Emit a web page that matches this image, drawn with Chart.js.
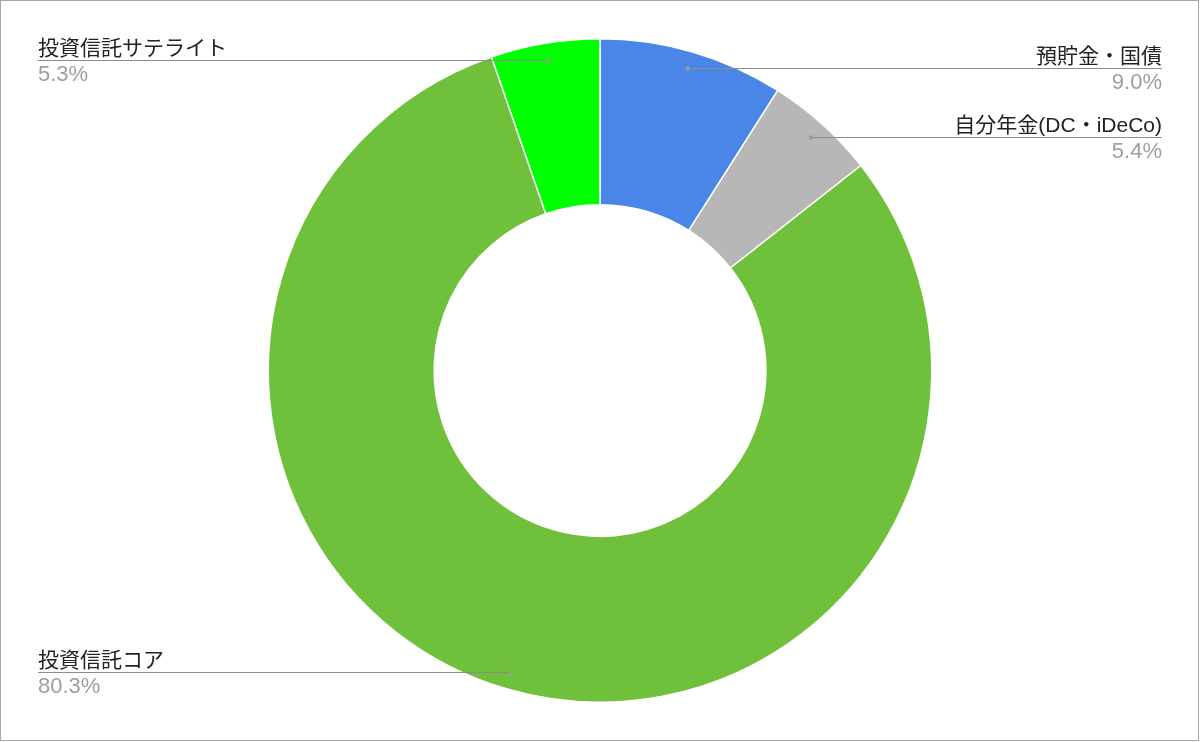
<!DOCTYPE html>
<html>
<head>
<meta charset="utf-8">
<script src="https://cdn.jsdelivr.net/npm/chart.js@4"></script>
<style>
html,body{margin:0;padding:0;background:#fff;}
#wrap{width:1200px;height:742px;position:relative;}
</style>
</head>
<body>
<div id="wrap"><canvas id="c" width="1200" height="742"></canvas></div>
<script>
const categories = ['預貯金・国債', '自分年金(DC・iDeCo)', '投資信託コア', '投資信託サテライト'];
const values = [9.0, 5.4, 80.3, 5.3];
const percentLabels = ['9.0%', '5.4%', '80.3%', '5.3%'];
const colors = ['#4a86e8', '#b7b7b7', '#6fc03b', '#00ff00'];

const labelPlugin = {
  id: 'leaderLabels',
  beforeDraw(chart) {
    const ctx = chart.ctx;
    ctx.save();
    ctx.fillStyle = '#ffffff';
    ctx.fillRect(0, 0, chart.width, chart.height);
    ctx.strokeStyle = '#a6a6a6';
    ctx.lineWidth = 1;
    ctx.strokeRect(0.5, 0.5, chart.width - 2, chart.height - 2);
    ctx.restore();
  },
  afterDraw(chart) {
    const ctx = chart.ctx;
    const meta = chart.getDatasetMeta(0);
    const leftX = 38, rightX = 1162;
    ctx.save();
    meta.data.forEach((arc, i) => {
      const p = arc.getProps(['x', 'y', 'startAngle', 'endAngle', 'outerRadius'], true);
      const mid = (p.startAngle + p.endAngle) / 2;
      const r = p.outerRadius * 0.948;
      const dx = p.x + Math.cos(mid) * r;
      const dy = p.y + Math.sin(mid) * r;
      const right = Math.cos(mid) >= 0;
      const ly = Math.round(dy) + 0.5;
      const tx = right ? rightX : leftX;
      ctx.strokeStyle = '#8c8c8c';
      ctx.lineWidth = 1;
      ctx.beginPath();
      ctx.moveTo(dx, ly);
      ctx.lineTo(tx, ly);
      ctx.stroke();
      ctx.fillStyle = '#9a9a9a';
      ctx.beginPath();
      ctx.arc(dx, ly, 2.2, 0, Math.PI * 2);
      ctx.fill();
      ctx.textAlign = right ? 'right' : 'left';
      ctx.font = '21px "Liberation Sans", "Noto Sans CJK JP", sans-serif';
      ctx.fillStyle = '#222222';
      ctx.textBaseline = 'alphabetic';
      ctx.fillText(categories[i], tx, ly - 6);
      ctx.font = '22px "Liberation Sans", "Noto Sans CJK JP", sans-serif';
      ctx.fillStyle = '#9e9e9e';
      ctx.fillText(percentLabels[i], tx, ly + 20);
    });
    ctx.restore();
  }
};

new Chart(document.getElementById('c'), {
  type: 'doughnut',
  data: {
    labels: categories,
    datasets: [{
      data: values,
      backgroundColor: colors,
      borderColor: '#ffffff',
      borderWidth: 1.5
    }]
  },
  options: {
    responsive: false,
    animation: false,
    cutout: '50%',
    layout: { padding: { top: 38, bottom: 39, left: 0, right: 0 } },
    plugins: {
      legend: { display: false },
      tooltip: { enabled: false }
    }
  },
  plugins: [labelPlugin]
});
</script>
</body>
</html>
